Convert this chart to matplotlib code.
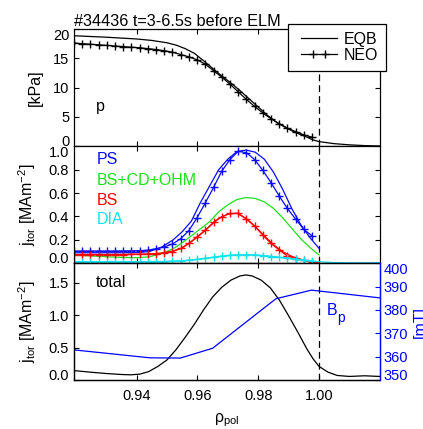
import matplotlib
matplotlib.use('Agg')
import matplotlib.pyplot as plt
from matplotlib.lines import Line2D
from matplotlib.legend_handler import HandlerLine2D

plt.rcParams['font.family'] = ['Liberation Sans', 'DejaVu Sans']
plt.rcParams['mathtext.fontset'] = 'custom'
plt.rcParams['mathtext.rm'] = 'Liberation Sans'
plt.rcParams['mathtext.it'] = 'Liberation Sans:italic'
plt.rcParams['mathtext.bf'] = 'Liberation Sans:bold'

# ---------------- data ----------------
# pressure (top panel)
rho_eqb_p = [0.9194, 0.930, 0.940, 0.945, 0.950, 0.953, 0.956, 0.959, 0.962, 0.965,
             0.968, 0.971, 0.974, 0.977, 0.980, 0.983, 0.986, 0.989, 0.992, 0.995,
             0.998, 1.000, 1.005, 1.010, 1.015, 1.0199]
p_eqb = [18.85, 18.6, 18.3, 18.05, 17.65, 17.25, 16.65, 15.85, 14.6, 13.3,
         12.0, 10.8, 9.5, 8.1, 6.7, 5.3, 4.1, 3.2, 2.4, 1.8,
         1.1, 0.8, 0.45, 0.25, 0.12, 0.05]

rho_neo = [0.9194, 0.9221, 0.9248, 0.9275, 0.9302, 0.9329, 0.9356, 0.9383, 0.9410, 0.9437,
           0.9464, 0.9491, 0.9518, 0.9545, 0.9572, 0.9599, 0.9626, 0.9653, 0.9680, 0.9707,
           0.9734, 0.9761, 0.9788, 0.9815, 0.9842, 0.9869, 0.9896, 0.9923, 0.9950, 0.9977]
p_neo = [17.6, 17.5, 17.4, 17.3, 17.2, 17.1, 17.0, 16.9, 16.8, 16.65,
         16.5, 16.3, 16.05, 15.65, 15.25, 14.75, 14.0, 12.9, 11.8, 10.6,
         9.3, 8.0, 6.8, 5.7, 4.7, 3.85, 3.1, 2.5, 1.95, 1.55]

# current density components (middle panel)
rho_eqb_j = [0.9194, 0.925, 0.930, 0.935, 0.940, 0.944, 0.948, 0.952, 0.955, 0.958,
             0.961, 0.964, 0.967, 0.970, 0.973, 0.976, 0.979, 0.982, 0.985, 0.988,
             0.991, 0.994, 0.997, 1.000]
ps_eqb = [0.09, 0.09, 0.09, 0.09, 0.092, 0.10, 0.135, 0.20, 0.27, 0.36,
          0.52, 0.66, 0.80, 0.89, 0.955, 0.968, 0.95, 0.89, 0.78, 0.635,
          0.47, 0.33, 0.22, 0.128]
bscdohm_eqb = [0.07, 0.063, 0.056, 0.05, 0.048, 0.055, 0.08, 0.125, 0.175, 0.235,
               0.295, 0.355, 0.44, 0.50, 0.545, 0.562, 0.555, 0.525, 0.47, 0.39,
               0.30, 0.21, 0.135, 0.071]
bs_eqb = [0.075, 0.075, 0.075, 0.075, 0.076, 0.078, 0.085, 0.105, 0.13, 0.185,
          0.245, 0.315, 0.385, 0.42, 0.428, 0.385, 0.315, 0.235, 0.16, 0.10,
          0.06, 0.035, 0.015, 0.005]
rho_eqb_dia = [0.9194, 0.925, 0.930, 0.935, 0.940, 0.944, 0.948, 0.952, 0.955, 0.958,
               0.961, 0.964, 0.967, 0.970, 0.973, 0.976, 0.979, 0.982, 0.985, 0.988,
               0.991, 0.994, 0.997, 1.000, 1.005, 1.010, 1.015, 1.0199]
dia_eqb = [0.014, 0.014, 0.014, 0.014, 0.014, 0.015, 0.016, 0.018, 0.022, 0.028,
           0.036, 0.046, 0.056, 0.065, 0.071, 0.074, 0.072, 0.066, 0.058, 0.048,
           0.037, 0.027, 0.019, 0.014, 0.006, 0.004, 0.004, 0.004]

ps_neo = [0.105, 0.105, 0.105, 0.105, 0.105, 0.105, 0.106, 0.107, 0.108, 0.112,
          0.125, 0.14, 0.165, 0.21, 0.28, 0.39, 0.517, 0.648, 0.787, 0.887,
          0.957, 0.946, 0.887, 0.795, 0.69, 0.576, 0.469, 0.378, 0.29, 0.235]
bs_neo = [0.075, 0.075, 0.075, 0.075, 0.075, 0.075, 0.075, 0.076, 0.077, 0.079,
          0.083, 0.09, 0.10, 0.128, 0.17, 0.227, 0.284, 0.35, 0.397, 0.426,
          0.426, 0.378, 0.318, 0.241, 0.17, 0.113, 0.062, 0.04, 0.025, 0.013]
dia_neo = [0.014, 0.014, 0.014, 0.014, 0.014, 0.014, 0.014, 0.014, 0.014, 0.014,
           0.014, 0.014, 0.016, 0.02, 0.026, 0.034, 0.043, 0.053, 0.062, 0.069,
           0.073, 0.074, 0.071, 0.065, 0.057, 0.05, 0.045, 0.037, 0.028, 0.022]

# total current and poloidal field (bottom panel)
rho_tot = [0.9194, 0.925, 0.930, 0.935, 0.938, 0.941, 0.944, 0.947, 0.950, 0.953,
           0.956, 0.959, 0.962, 0.965, 0.968, 0.971, 0.974, 0.976, 0.978, 0.981,
           0.984, 0.987, 0.990, 0.993, 0.996, 0.998, 1.000, 1.003, 1.006, 1.010,
           1.015, 1.0199]
j_tot = [0.145, 0.12, 0.10, 0.085, 0.08, 0.09, 0.13, 0.21, 0.31, 0.47,
         0.66, 0.86, 1.08, 1.28, 1.43, 1.54, 1.605, 1.62, 1.605, 1.54,
         1.42, 1.23, 0.99, 0.74, 0.48, 0.33, 0.21, 0.12, 0.07, 0.055,
         0.065, 0.055]
rho_bp = [0.9194, 0.9444, 0.9544, 0.9650, 0.9858, 0.9975, 1.0199]
bp = [362.9, 359.5, 359.4, 363.6, 384.8, 388.5, 385.2]

x_ticks = [0.94, 0.96, 0.98, 1.00]
p_ticks = [0, 5, 10, 15, 20]
j_ticks = [0.0, 0.2, 0.4, 0.6, 0.8, 1.0]
tot_ticks = [0.0, 0.5, 1.0, 1.5]
bp_ticks = [350, 360, 370, 380, 390, 400]

# ---------------- styling ----------------
C_PS = '#0a0aff'
C_GR = '#1ee01e'
C_BS = '#ff0000'
C_DIA = '#12e2ee'
LW = 0.9
MK = dict(marker='+', ms=5.5, mew=1.0)
FS_T = 10.5
FS = 11.5

W, H = 423, 429
fig = plt.figure(figsize=(W / 100, H / 100), dpi=100)
L, WD = 74 / W, 305.5 / W
ax1 = fig.add_axes([L, 1 - 146.3 / H, WD, 117.3 / H])
ax2 = fig.add_axes([L, 1 - 263.3 / H, WD, 117.0 / H], sharex=ax1)
ax3 = fig.add_axes([L, 1 - 380 / H, WD, 116.7 / H], sharex=ax1)
ax3r = ax3.twinx()

# top panel
ax1.plot(rho_eqb_p, p_eqb, color='k', lw=LW)
ax1.plot(rho_neo, p_neo, color='k', lw=LW, **MK)
ax1.set_ylim(0, 20)
ax1.set_yticks(p_ticks)
ax1.set_yticklabels([str(v) for v in p_ticks])

# middle panel
ax2.plot(rho_eqb_j, ps_eqb, color=C_PS, lw=LW)
ax2.plot(rho_neo, ps_neo, color=C_PS, lw=LW, **MK)
ax2.plot(rho_eqb_j, bscdohm_eqb, color=C_GR, lw=LW)
ax2.plot(rho_eqb_j, bs_eqb, color=C_BS, lw=LW)
ax2.plot(rho_neo, bs_neo, color=C_BS, lw=LW, **MK)
ax2.plot(rho_eqb_dia, dia_eqb, color=C_DIA, lw=LW)
ax2.plot(rho_neo, dia_neo, color=C_DIA, lw=LW, **MK)
ax2.set_ylim(0, 1.0)
ax2.set_yticks(j_ticks)
ax2.set_yticklabels([f'{v:.1f}' for v in j_ticks])

# bottom panel
ax3.plot(rho_tot, j_tot, color='k', lw=LW)
ax3.set_ylim(0, 1.8)
ax3.set_yticks(tot_ticks)
ax3.set_yticklabels([f'{v:.1f}' for v in tot_ticks])
ax3r.plot(rho_bp, bp, color='blue', lw=LW)
ax3r.set_ylim(350, 400)
ax3r.set_yticks(bp_ticks)
ax3r.set_yticklabels([str(v) for v in bp_ticks])

ax1.set_xlim(0.9194, 1.0199)
ax3.set_xticks(x_ticks)
ax3.set_xticklabels([f'{v:.2f}' for v in x_ticks])

for ax in (ax1, ax2, ax3):
    ax.axvline(1.0, color='k', lw=LW, ls=(0, (5.5, 3.2)), zorder=1)

# ticks
for ax in (ax1, ax2):
    ax.tick_params(direction='in', top=True, right=True, length=3.5, width=0.8,
                   labelsize=FS_T, labelbottom=False)
    ax.tick_params(axis='y', pad=3.5)
ax3.tick_params(direction='in', top=True, right=False, length=3.5, width=0.8,
                labelsize=FS_T)
ax3.tick_params(axis='y', pad=3.5)
ax3.tick_params(axis='x', pad=6.7)
ax3r.tick_params(axis='y', direction='in', length=3.5, width=0.8, colors='blue',
                 labelsize=FS_T, pad=3.2)
for ax in (ax1, ax2, ax3, ax3r):
    for s in ax.spines.values():
        s.set_linewidth(0.9)
ax3r.spines['right'].set_color('blue')

# IDL-like placement of edge tick labels (inside the axis range)
for ax in (ax1, ax2, ax3, ax3r):
    labs = ax.get_yticklabels()
    ymin, ymax = ax.get_ylim()
    ticks = ax.get_yticks()
    for t, lab in zip(ticks, labs):
        if abs(t - ymin) < 1e-9:
            lab.set_verticalalignment('baseline')
        elif abs(t - ymax) < 1e-9:
            lab.set_verticalalignment('top')

# labels
ax1.set_title('#34436 t=3-6.5s before ELM', loc='left', fontsize=11.7, pad=2)
ax1.set_ylabel('[kPa]', fontsize=FS)
ax1.yaxis.set_label_coords(-0.1025, 0.5)
jlab = r'$\mathregular{j_{tor}\ [MAm^{-2}]}$'
ax2.set_ylabel(jlab, fontsize=FS)
ax2.yaxis.set_label_coords(-0.118, 0.5)
ax3.set_ylabel(jlab, fontsize=FS)
ax3.yaxis.set_label_coords(-0.118, 0.5)
ax3.set_xlabel(r'$\mathregular{ρ_{pol}}$', fontsize=FS)
ax3.xaxis.set_label_coords(0.5, -0.27)
ax3r.set_ylabel('[mT]', color='blue', fontsize=FS, labelpad=3)

# annotations
ax1.text(0.071, 0.303, 'p', transform=ax1.transAxes, fontsize=FS, va='baseline')
ax2.text(0.074, 0.849, 'PS', transform=ax2.transAxes, fontsize=FS, color=C_PS, va='baseline')
ax2.text(0.074, 0.670, 'BS+CD+OHM', transform=ax2.transAxes, fontsize=FS, color=C_GR, va='baseline')
ax2.text(0.074, 0.500, 'BS', transform=ax2.transAxes, fontsize=FS, color=C_BS, va='baseline')
ax2.text(0.074, 0.338, 'DIA', transform=ax2.transAxes, fontsize=FS, color=C_DIA, va='baseline')
ax3.text(0.071, 0.794, 'total', transform=ax3.transAxes, fontsize=FS, va='baseline')
ax3.text(0.828, 0.557, 'B', transform=ax3.transAxes, fontsize=FS, color='blue', va='baseline')
ax3.text(0.862, 0.495, 'p', transform=ax3.transAxes, fontsize=10, color='blue', va='baseline')


# legend
class HandlerTwoMarks(HandlerLine2D):
    def create_artists(self, *args, **kwargs):
        arts = super().create_artists(*args, **kwargs)
        for a in arts:
            if a.get_marker() not in (None, 'None', ''):
                a.set_markevery([1, 2])
        return arts


h_eqb = Line2D([], [], color='k', lw=LW)
h_neo = Line2D([], [], color='k', lw=LW, **MK)
leg = ax1.legend([h_eqb, h_neo], ['EQB', 'NEO'], loc='upper right',
                 bbox_to_anchor=(386 / W, 1 - 24 / H), bbox_transform=fig.transFigure,
                 borderaxespad=0, numpoints=4, handlelength=2.9, handletextpad=0.1,
                 borderpad=0.5, labelspacing=0.05, fancybox=False, edgecolor='black',
                 framealpha=1, fontsize=FS, handler_map={h_neo: HandlerTwoMarks()})
leg.get_frame().set_linewidth(0.9)

fig.savefig('out.png', dpi=100)
